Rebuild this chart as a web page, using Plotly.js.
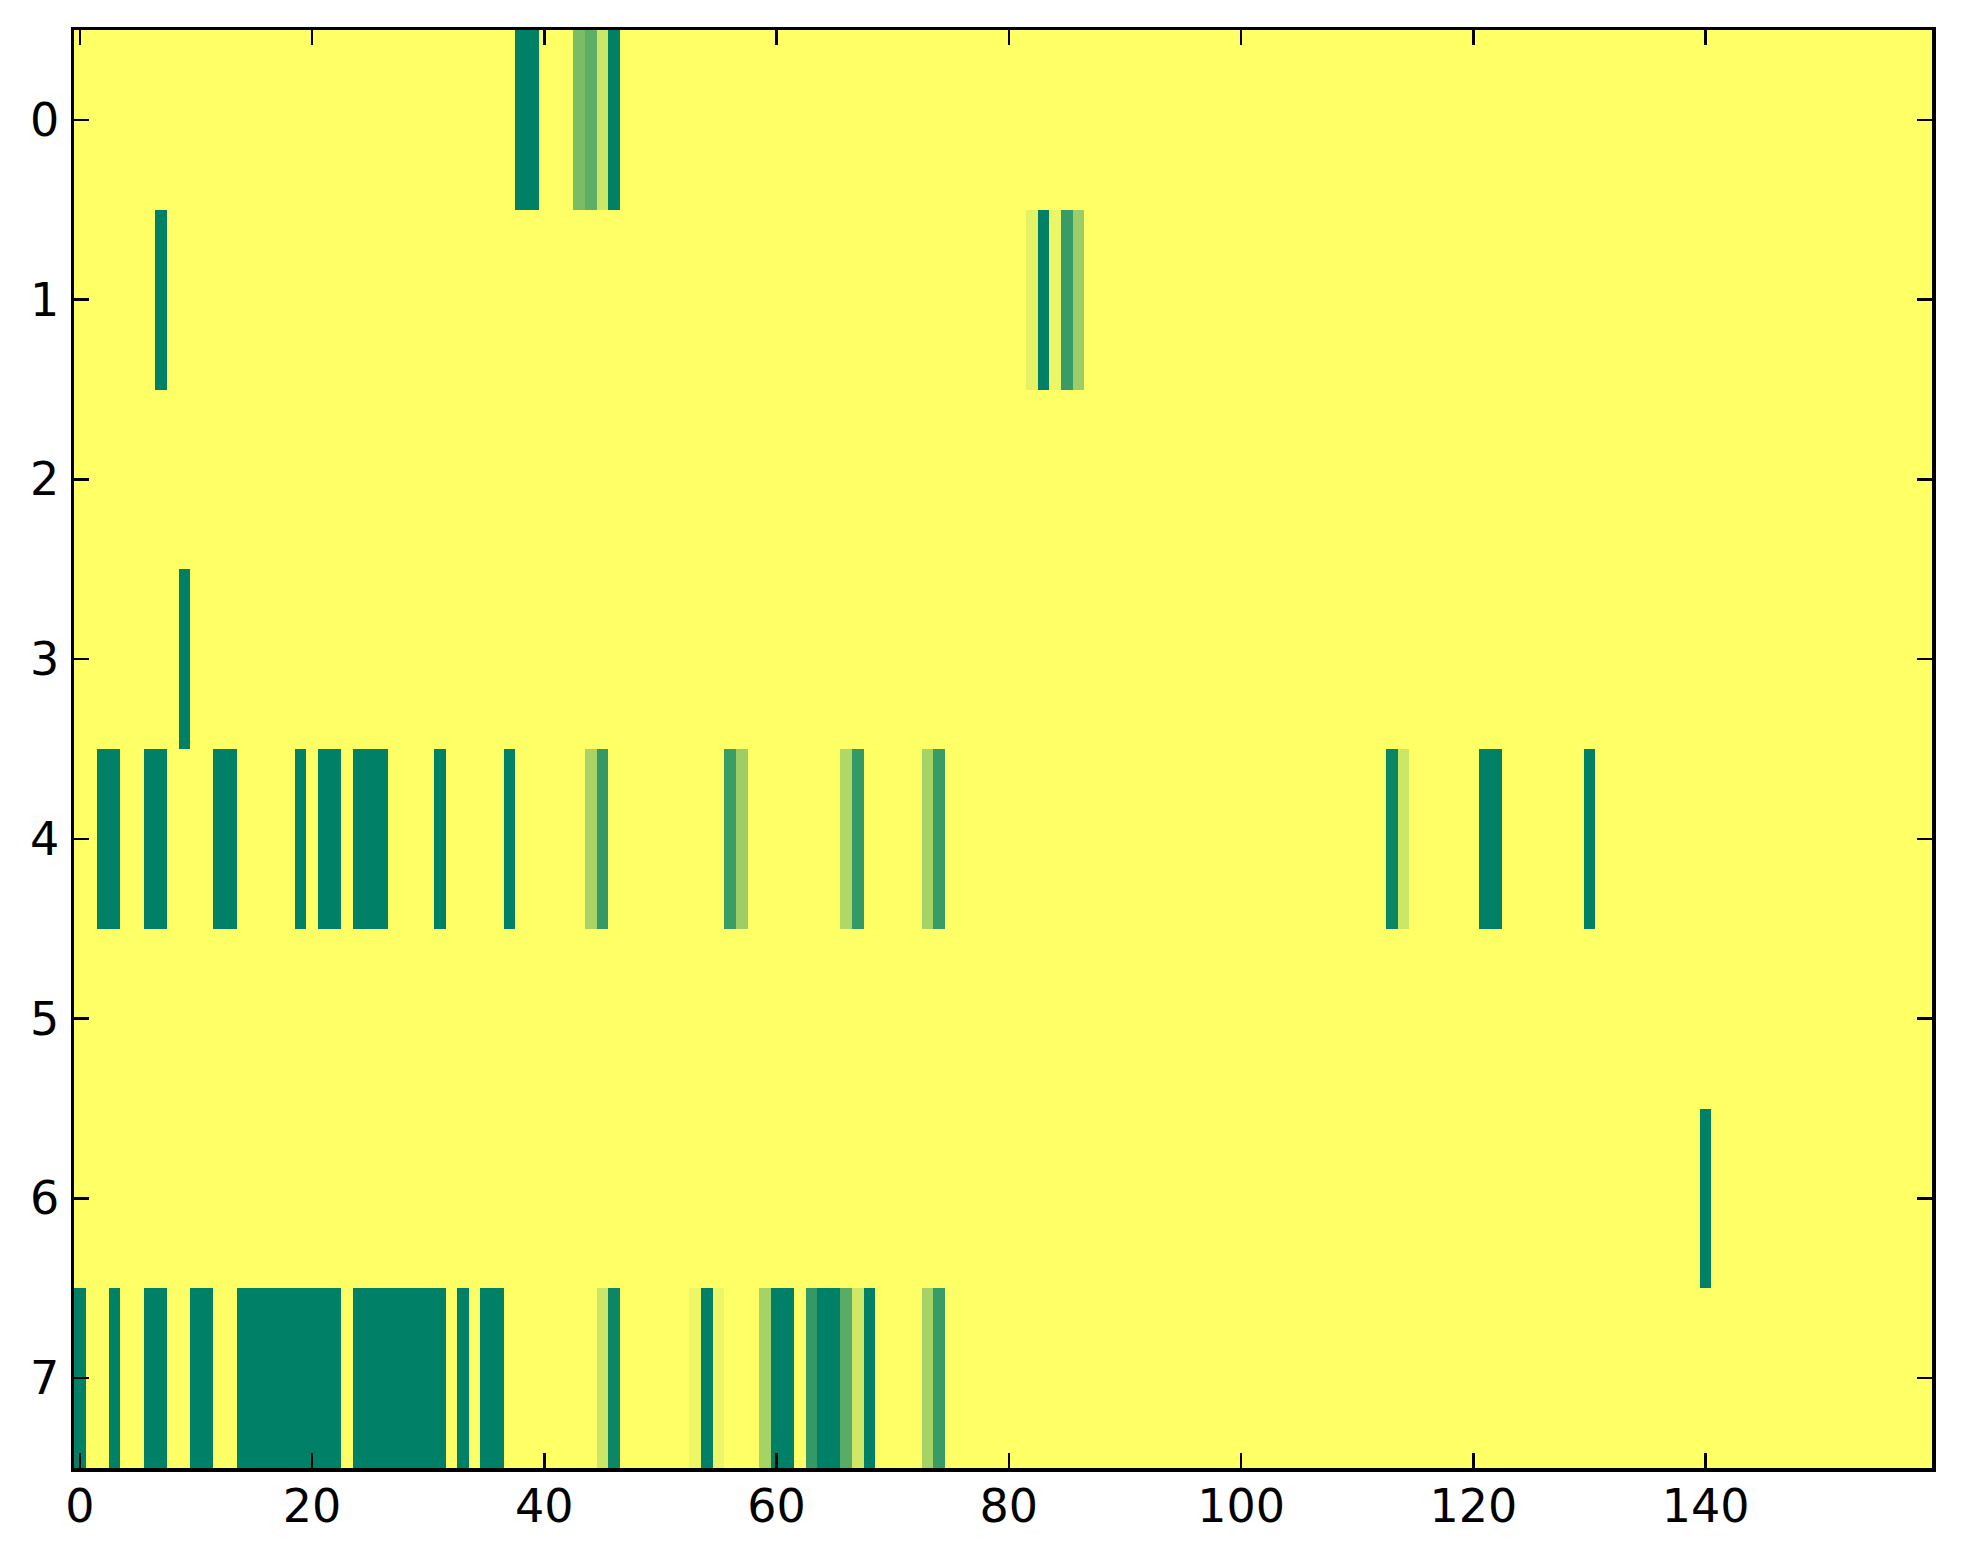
<!DOCTYPE html>
<html>
<head>
<meta charset="utf-8">
<script src="https://cdn.plot.ly/plotly-3.0.1.min.js"></script>
<style>html,body{margin:0;padding:0;background:#fff;}#chart{width:1963px;height:1564px;}</style>
</head>
<body>
<div id="chart"></div>
<script>
// 8 rows x 160 columns, values 0..1 (summer colormap: 0 = green, 1 = yellow)
var row0 = [
1,1,1,1,1,1,1,1,1,1,1,1,1,1,1,1,1,1,1,1,
1,1,1,1,1,1,1,1,1,1,1,1,1,1,1,1,1,1,0,0,
1,1,1,0.48,0.37,0.8,0,1,1,1,1,1,1,1,1,1,1,1,1,1,
1,1,1,1,1,1,1,1,1,1,1,1,1,1,1,1,1,1,1,1,
1,1,1,1,1,1,1,1,1,1,1,1,1,1,1,1,1,1,1,1,
1,1,1,1,1,1,1,1,1,1,1,1,1,1,1,1,1,1,1,1,
1,1,1,1,1,1,1,1,1,1,1,1,1,1,1,1,1,1,1,1,
1,1,1,1,1,1,1,1,1,1,1,1,1,1,1,1,1,1,1,1];
var row1 = [
1,1,1,1,1,1,1,0,1,1,1,1,1,1,1,1,1,1,1,1,
1,1,1,1,1,1,1,1,1,1,1,1,1,1,1,1,1,1,1,1,
1,1,1,1,1,1,1,1,1,1,1,1,1,1,1,1,1,1,1,1,
1,1,1,1,1,1,1,1,1,1,1,1,1,1,1,1,1,1,1,1,
1,1,0.9,0,0.93,0.22,0.61,1,1,1,1,1,1,1,1,1,1,1,1,1,
1,1,1,1,1,1,1,1,1,1,1,1,1,1,1,1,1,1,1,1,
1,1,1,1,1,1,1,1,1,1,1,1,1,1,1,1,1,1,1,1,
1,1,1,1,1,1,1,1,1,1,1,1,1,1,1,1,1,1,1,1];
var row2 = [
1,1,1,1,1,1,1,1,1,1,1,1,1,1,1,1,1,1,1,1,
1,1,1,1,1,1,1,1,1,1,1,1,1,1,1,1,1,1,1,1,
1,1,1,1,1,1,1,1,1,1,1,1,1,1,1,1,1,1,1,1,
1,1,1,1,1,1,1,1,1,1,1,1,1,1,1,1,1,1,1,1,
1,1,1,1,1,1,1,1,1,1,1,1,1,1,1,1,1,1,1,1,
1,1,1,1,1,1,1,1,1,1,1,1,1,1,1,1,1,1,1,1,
1,1,1,1,1,1,1,1,1,1,1,1,1,1,1,1,1,1,1,1,
1,1,1,1,1,1,1,1,1,1,1,1,1,1,1,1,1,1,1,1];
var row3 = [
1,1,1,1,1,1,1,1,1,0,1,1,1,1,1,1,1,1,1,1,
1,1,1,1,1,1,1,1,1,1,1,1,1,1,1,1,1,1,1,1,
1,1,1,1,1,1,1,1,1,1,1,1,1,1,1,1,1,1,1,1,
1,1,1,1,1,1,1,1,1,1,1,1,1,1,1,1,1,1,1,1,
1,1,1,1,1,1,1,1,1,1,1,1,1,1,1,1,1,1,1,1,
1,1,1,1,1,1,1,1,1,1,1,1,1,1,1,1,1,1,1,1,
1,1,1,1,1,1,1,1,1,1,1,1,1,1,1,1,1,1,1,1,
1,1,1,1,1,1,1,1,1,1,1,1,1,1,1,1,1,1,1,1];
var row4 = [
1,1,0,0,1,1,0,0,1,1,1,1,0,0,1,1,1,1,1,0,
1,0,0,1,0,0,0,1,1,1,1,0,1,1,1,1,1,0,1,1,
1,1,1,1,0.66,0.2,1,1,1,1,1,1,1,1,1,1,0.23,0.61,1,1,
1,1,1,1,1,1,0.69,0.2,1,1,1,1,1,0.65,0.22,1,1,1,1,1,
1,1,1,1,1,1,1,1,1,1,1,1,1,1,1,1,1,1,1,1,
1,1,1,1,1,1,1,1,1,1,1,1,1,0.04,0.8,1,1,1,1,1,
1,0,0,1,1,1,1,1,1,1,0,1,1,1,1,1,1,1,1,1,
1,1,1,1,1,1,1,1,1,1,1,1,1,1,1,1,1,1,1,1];
var row5 = [
1,1,1,1,1,1,1,1,1,1,1,1,1,1,1,1,1,1,1,1,
1,1,1,1,1,1,1,1,1,1,1,1,1,1,1,1,1,1,1,1,
1,1,1,1,1,1,1,1,1,1,1,1,1,1,1,1,1,1,1,1,
1,1,1,1,1,1,1,1,1,1,1,1,1,1,1,1,1,1,1,1,
1,1,1,1,1,1,1,1,1,1,1,1,1,1,1,1,1,1,1,1,
1,1,1,1,1,1,1,1,1,1,1,1,1,1,1,1,1,1,1,1,
1,1,1,1,1,1,1,1,1,1,1,1,1,1,1,1,1,1,1,1,
1,1,1,1,1,1,1,1,1,1,1,1,1,1,1,1,1,1,1,1];
var row6 = [
1,1,1,1,1,1,1,1,1,1,1,1,1,1,1,1,1,1,1,1,
1,1,1,1,1,1,1,1,1,1,1,1,1,1,1,1,1,1,1,1,
1,1,1,1,1,1,1,1,1,1,1,1,1,1,1,1,1,1,1,1,
1,1,1,1,1,1,1,1,1,1,1,1,1,1,1,1,1,1,1,1,
1,1,1,1,1,1,1,1,1,1,1,1,1,1,1,1,1,1,1,1,
1,1,1,1,1,1,1,1,1,1,1,1,1,1,1,1,1,1,1,1,
1,1,1,1,1,1,1,1,1,1,1,1,1,1,1,1,1,1,1,1,
0,1,1,1,1,1,1,1,1,1,1,1,1,1,1,1,1,1,1,1];
var row7 = [
0,1,1,0,1,1,0,0,1,1,0,0,1,1,0,0,0,0,0,0,
0,0,0,1,0,0,0,0,0,0,0,0,1,0,1,0,0,1,1,1,
1,1,1,1,1,0.8,0.05,1,1,1,1,1,1,0.93,0,0.93,1,1,1,0.65,
0,0,1,0.2,0,0,0.35,0.82,0,1,1,1,1,0.65,0.22,1,1,1,1,1,
1,1,1,1,1,1,1,1,1,1,1,1,1,1,1,1,1,1,1,1,
1,1,1,1,1,1,1,1,1,1,1,1,1,1,1,1,1,1,1,1,
1,1,1,1,1,1,1,1,1,1,1,1,1,1,1,1,1,1,1,1,
1,1,1,1,1,1,1,1,1,1,1,1,1,1,1,1,1,1,1,1];

var xTickVals = [0, 20, 40, 60, 80, 100, 120, 140];
var xTickText = ['0', '20', '40', '60', '80', '100', '120', '140'];
var yTickVals = [0, 1, 2, 3, 4, 5, 6, 7];
var yTickText = ['0', '1', '2', '3', '4', '5', '6', '7'];

var zRows = [row0, row1, row2, row3, row4, row5, row6, row7];

var trace = {
  type: 'heatmap',
  z: zRows,
  zmin: 0, zmax: 1,
  zsmooth: false,
  colorscale: [[0, 'rgb(0,128,102)'], [1, 'rgb(255,255,102)']],
  showscale: false,
  hoverinfo: 'skip'
};

var tickFont = {family: 'DejaVu Sans, sans-serif', size: 46, color: '#000'};
var axisCommon = {
  showline: true, linecolor: '#000', linewidth: 3.5, mirror: 'ticks',
  ticks: 'inside', ticklen: 15, tickwidth: 2.5, tickcolor: '#000',
  showgrid: false, zeroline: false, tickfont: tickFont, tickmode: 'array'
};

var layout = {
  width: 1963, height: 1564,
  margin: {l: 74, r: 31, t: 30, b: 96, pad: 0},
  paper_bgcolor: '#fff', plot_bgcolor: '#fff',
  showlegend: false,
  xaxis: Object.assign({}, axisCommon, {range: [-0.5, 159.5], tickvals: xTickVals, ticktext: xTickText, ticklabelstandoff: -5}),
  yaxis: Object.assign({}, axisCommon, {range: [7.5, -0.5], tickvals: yTickVals, ticktext: yTickText, ticklabelstandoff: 2})
};

Plotly.newPlot('chart', [trace], layout, {staticPlot: true, displayModeBar: false});
</script>
</body>
</html>
